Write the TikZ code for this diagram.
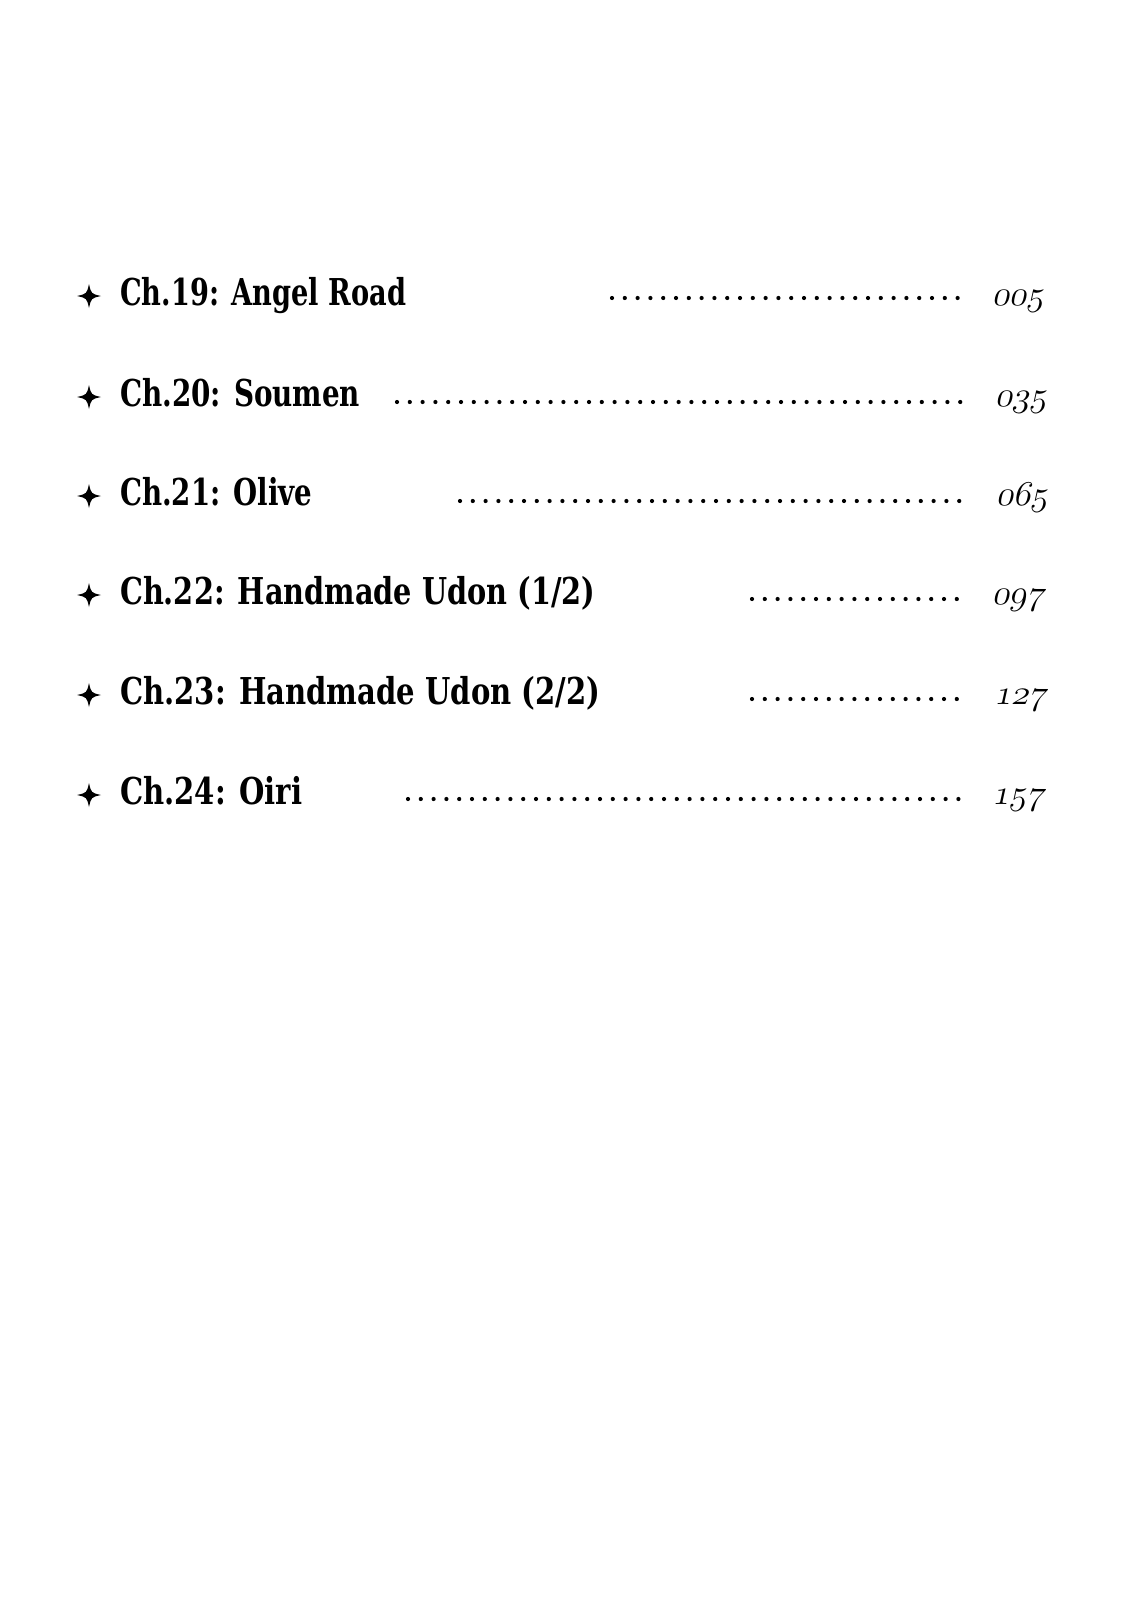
\documentclass[tikz,border=0pt]{standalone}
\usepackage{fontspec}
\usepackage{graphicx}
\newfontfamily\titlefont{DejaVu Serif}[BoldFont={DejaVu Serif Bold}]
\newcommand\ttl[2]{\resizebox{#1pt}{\height}{\titlefont\bfseries\fontsize{37}{40}\selectfont #2}}
\newcommand\pgnum[1]{\scalebox{1.4}{\fontsize{24.88}{30}\usefont{OML}{cmm}{m}{it}#1}}
\begin{document}
\begin{tikzpicture}[x=1pt,y=-1pt,
  title/.style={anchor=base west, inner sep=0pt},
  pnum/.style={anchor=base west, inner sep=0pt, xslant=0.22, transform shape},
  leader/.style={line width=4.2pt, line cap=round, dash pattern=on 0pt off 12.8pt},
  starmark/.pic={\fill[black] (0,-12) .. controls (2.2,-2.2) .. (12,0) .. controls (2.2,2.2) .. (0,12) .. controls (-2.2,2.2) .. (-12,0) .. controls (-2.2,-2.2) .. (0,-12) -- cycle;}]
\fill[white] (0,0) rectangle (1125,1600);
\useasboundingbox (0,0) rectangle (1125,1600);

% row 1
\pic (s1) at (89,296) {starmark};
\node[title] (t1) at (120,305) {\ttl{286}{Ch.19: Angel Road}};
\coordinate (d1s) at (612,298);
\coordinate (d1e) at (967,298);
\draw[leader] (d1s) -- (d1e);
\node[shift={(992,305)}, pnum] (p1) {\pgnum{005}};

% row 2
\pic (s2) at (89,397) {starmark};
\node[title] (t2) at (120,406) {\ttl{240}{Ch.20: Soumen}};
\coordinate (d2s) at (397,402);
\coordinate (d2e) at (967,402);
\draw[leader] (d2s) -- (d2e);
\node[shift={(995,406)}, pnum] (p2) {\pgnum{035}};

% row 3
\pic (s3) at (89,496) {starmark};
\node[title] (t3) at (120,505) {\ttl{192}{Ch.21: Olive}};
\coordinate (d3s) at (460,501);
\coordinate (d3e) at (967,501);
\draw[leader] (d3s) -- (d3e);
\node[shift={(996,505)}, pnum] (p3) {\pgnum{065}};

% row 4
\pic (s4) at (89,595) {starmark};
\node[title] (t4) at (120,604) {\ttl{475}{Ch.22: Handmade Udon (1/2)}};
\coordinate (d4s) at (752,599);
\coordinate (d4e) at (967,599);
\draw[leader] (d4s) -- (d4e);
\node[shift={(992,604)}, pnum] (p4) {\pgnum{097}};

% row 5
\pic (s5) at (89,695) {starmark};
\node[title] (t5) at (120,704) {\ttl{480}{Ch.23: Handmade Udon (2/2)}};
\coordinate (d5s) at (752,699);
\coordinate (d5e) at (967,699);
\draw[leader] (d5s) -- (d5e);
\node[shift={(994,704)}, pnum] (p5) {\pgnum{127}};

% row 6
\pic (s6) at (89,795) {starmark};
\node[title] (t6) at (120,804) {\ttl{182}{Ch.24: Oiri}};
\coordinate (d6s) at (408,799);
\coordinate (d6e) at (967,799);
\draw[leader] (d6s) -- (d6e);
\node[shift={(992,804)}, pnum] (p6) {\pgnum{157}};
\end{tikzpicture}
\end{document}
